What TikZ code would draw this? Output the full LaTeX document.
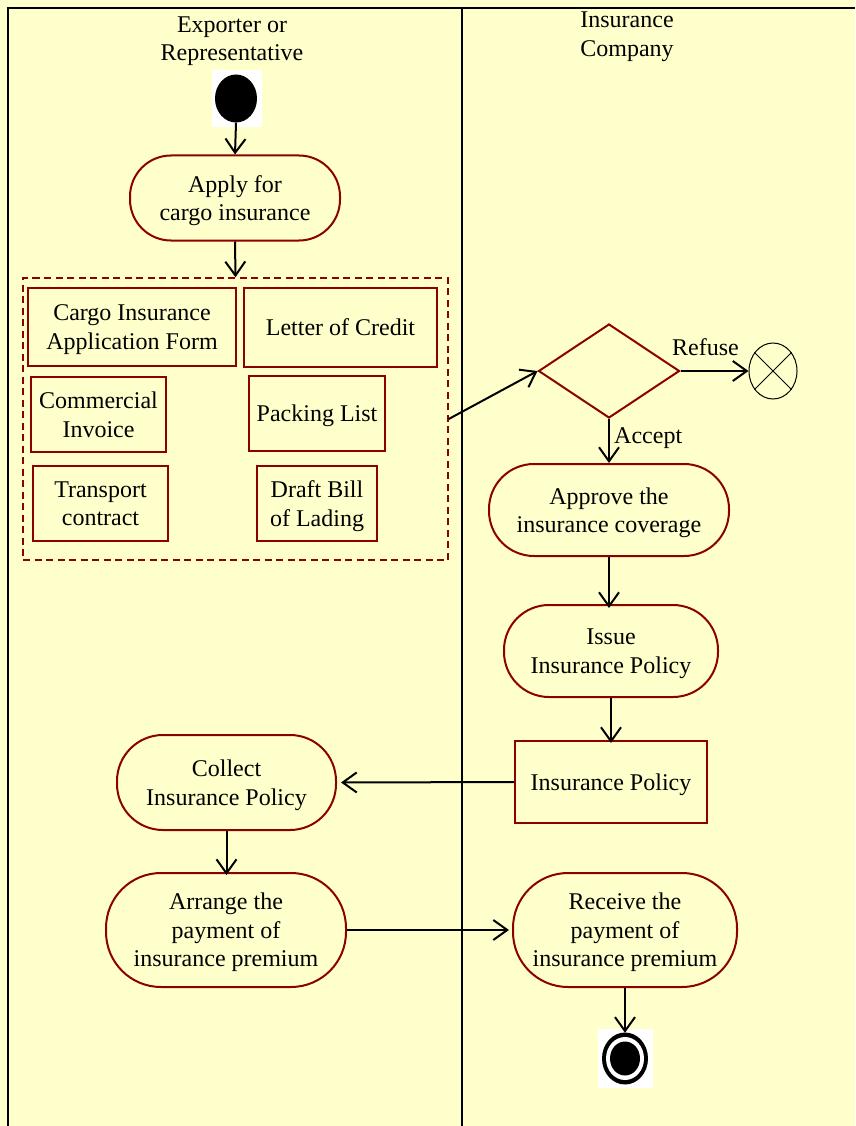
\documentclass[tikz,border=0pt]{standalone}
\usepackage{fontspec}
\setmainfont{Liberation Serif}
\usetikzlibrary{arrows.meta,shapes.geometric}
\definecolor{bgy}{RGB}{255,255,204}
\definecolor{dkred}{RGB}{140,0,0}
\tikzset{
  lbl/.style={font=\fontsize{24}{28.5}\selectfont, align=center, inner sep=0pt},
  txt/.style={lbl, text depth=-3pt},
  act/.style={txt, draw=dkred, line width=2pt},
  doc/.style={txt, draw=dkred, line width=2pt},
  flow/.style={line width=2pt, -{Straight Barb[length=14pt,width=20pt]}},
}
\begin{document}
\begin{tikzpicture}[x=1pt,y=-1pt]
\fill[bgy] (0,0) rectangle (855,1126);
\useasboundingbox (0,0) rectangle (855,1126);
% lanes
\draw[line width=2pt] (8,1126) -- (8,8) -- (855,8);
\draw[line width=2pt] (462,8) -- (462,1126);
\node[txt] (h1) at (232,38.5) {Exporter or\\Representative};
\node[txt] (h2) at (627,34) {Insurance\\Company};
% start
\node[fill=white, minimum width=50pt, minimum height=57pt, inner sep=0pt] (startbg) at (237,98.5) {};
\node[ellipse, fill=black, minimum width=42pt, minimum height=48pt, inner sep=0pt] (start) at (236,98.5) {};
% apply
\node[act, rounded corners=41pt, minimum width=210pt, minimum height=85pt] (apply) at (235,198) {Apply for\\cargo insurance};
% documents
\node[draw=dkred, line width=1.5pt, dash pattern=on 7pt off 4.5pt, minimum width=425pt, minimum height=282pt, inner sep=0pt] (docs) at (235.5,419) {};
\node[doc, minimum width=208pt, minimum height=78pt] (cargo) at (132,327) {Cargo Insurance\\Application Form};
\node[doc, minimum width=193pt, minimum height=79pt] (loc) at (340.5,327.5) {Letter of Credit};
\node[doc, minimum width=135pt, minimum height=75pt] (ci) at (98.5,414.5) {Commercial\\Invoice};
\node[doc, minimum width=136pt, minimum height=75pt] (pl) at (317,413.5) {Packing List};
\node[doc, minimum width=135pt, minimum height=75pt] (tc) at (100.5,503.5) {Transport\\contract};
\node[doc, minimum width=120pt, minimum height=75pt] (db) at (317,503.5) {Draft Bill\\of Lading};
% decision
\node[diamond, draw=dkred, line width=2pt, minimum width=141pt, minimum height=94pt, inner sep=0pt] (dec) at (609,371) {};
\node[ellipse, draw=black, line width=1pt, minimum width=48pt, minimum height=56pt, inner sep=0pt] (ff) at (773,371) {};
\draw[line width=1pt] (ff.45) -- (ff.225) (ff.135) -- (ff.315);
% right lane activities
\node[act, rounded corners=45pt, minimum width=240pt, minimum height=92pt] (approve) at (609,510) {Approve the\\insurance coverage};
\node[act, rounded corners=45pt, minimum width=214pt, minimum height=92pt] (issue) at (611,651) {Issue\\Insurance Policy};
\node[doc, minimum width=192pt, minimum height=82pt] (pol) at (611,782) {Insurance Policy};
\node[act, rounded corners=46pt, minimum width=219pt, minimum height=95pt] (collect) at (226.5,782.5) {Collect\\Insurance Policy};
\node[act, rounded corners=55pt, minimum width=240pt, minimum height=114pt] (arrange) at (226,930) {Arrange the\\payment of\\insurance premium};
\node[act, rounded corners=55pt, minimum width=224pt, minimum height=114pt] (receive) at (625,930) {Receive the\\payment of\\insurance premium};
% end
\node[fill=white, minimum width=55pt, minimum height=59pt, inner sep=0pt] (endbg) at (625.5,1058.5) {};
\node[ellipse, fill=black, minimum width=46pt, minimum height=52pt, inner sep=0pt] (endo) at (625,1058.5) {};
\node[ellipse, fill=white, minimum width=38pt, minimum height=43pt, inner sep=0pt] (endw) at (625,1058.5) {};
\node[ellipse, fill=black, minimum width=30pt, minimum height=34pt, inner sep=0pt] (endi) at (625,1058.5) {};
% flows
\draw[flow] (start.south) -- (apply.north);
\draw[flow] (apply.south) -- (docs.north);
\draw[flow] (docs.east) -- (dec.west);
\draw[flow] (dec.east) -- (ff.west);
\node[lbl, anchor=south west] (lref) at (672,356) {Refuse};
\draw[flow] (dec.south) -- (approve.north);
\node[lbl, anchor=west] (lacc) at (614,438) {Accept};
\draw[flow] (approve.south) -- ([yshift=-4pt]approve.south |- issue.north);
\draw[flow] (issue.south) -- ([yshift=-3pt]issue.south |- pol.north);
\draw[flow] (pol.west) -- ([xshift=4pt]collect.east);
\draw[flow] (collect.south) -- ([yshift=-3pt]collect.south |- arrange.north);
\draw[flow] (arrange.east) -- ([xshift=-3pt]receive.west);
\draw[flow] (receive.south) -- ([yshift=-4pt]receive.south |- endbg.north);
\end{tikzpicture}
\end{document}
